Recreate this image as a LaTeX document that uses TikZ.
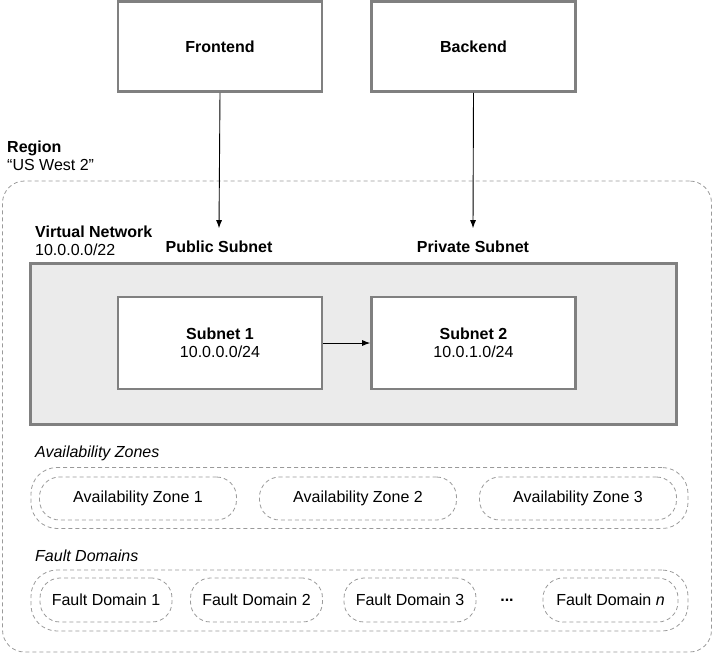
\documentclass[tikz,border=0pt]{standalone}
\usepackage{fontspec}
\setmainfont{Liberation Sans}
\usetikzlibrary{arrows.meta,positioning}
\definecolor{edgeGray}{HTML}{808080}
\definecolor{dashGray}{HTML}{9A9A9A}
\definecolor{vnetFill}{HTML}{EBEBEB}
\newcommand{\diagfont}{\fontsize{16}{18}\selectfont}

\begin{document}
\begin{tikzpicture}[x=1pt,y=-1pt,
  every node/.style={font=\diagfont},
  svc/.style={draw=edgeGray,line width=2.6pt,fill=white,
    minimum width=204pt,minimum height=90pt,align=center},
  vnetbox/.style={draw=edgeGray,line width=2.6pt,fill=vnetFill,
    minimum width=646pt,minimum height=161pt},
  zone/.style={draw=dashGray,line width=0.8pt,dash pattern=on 4pt off 3pt},
  group/.style={zone,rounded corners=26pt,minimum width=657pt,minimum height=61pt},
  azbox/.style={zone,rounded corners=20pt,minimum width=197pt,minimum height=43pt},
  fdbox/.style={zone,rounded corners=20pt,minimum width=132pt,minimum height=44pt},
  lbl/.style={anchor=base west,inner sep=0pt,align=left},
  arr/.style={-{Latex[length=8pt,width=6pt]},line width=0.9pt,draw=black}]
  \useasboundingbox (0,0) rectangle (713,654);
  % services above the region
  \node[svc] (frontend) at (220,46.5) {\textbf{Frontend}};
  \node[svc] (backend) at (473.5,46.5) {\textbf{Backend}};
  % region
  \node[zone,rounded corners=22pt,minimum width=709pt,minimum height=471pt]
    (region) at (357,416.5) {};
  \node[lbl] (regionlbl) at (7,170) {\textbf{Region}\\“US West 2”};
  % virtual network
  \node[lbl] (vnetlbl) at (35,255) {\textbf{Virtual Network}\\10.0.0.0/22};
  \node[anchor=base,inner sep=0pt] (pubsub) at (219,252) {\textbf{Public Subnet}};
  \node[anchor=base,inner sep=0pt] (privsub) at (473,252) {\textbf{Private Subnet}};
  \node[vnetbox] (vnet) at (353.5,344) {};
  \node[svc,minimum height=92pt] (subnet1) at (220,343)
    {\textbf{Subnet 1}\\10.0.0.0/24};
  \node[svc,minimum height=92pt] (subnet2) at (473.5,343)
    {\textbf{Subnet 2}\\10.0.1.0/24};
  % availability zones
  \node[lbl] (azlbl) at (35,457) {\textit{Availability Zones}};
  \node[group] (azgroup) at (359.5,498) {};
  \node[azbox] (az1) at (138,498.5) {Availability Zone 1};
  \node[azbox] (az2) at (358,498.5) {Availability Zone 2};
  \node[azbox] (az3) at (578,498.5) {Availability Zone 3};
  % fault domains
  \node[lbl] (fdlbl) at (35,561) {\textit{Fault Domains}};
  \node[group] (fdgroup) at (359.5,600.5) {};
  \node[fdbox] (fd1) at (106,600) {Fault Domain 1};
  \node[fdbox] (fd2) at (256.5,600) {Fault Domain 2};
  \node[fdbox] (fd3) at (410,600) {Fault Domain 3};
  \node (fddots) at (507,600) {\textbf{...}};
  \node[fdbox,minimum width=135pt] (fdn) at (610.5,600) {Fault Domain \textit{n}};
  % connectors
  \draw[arr] (frontend.south) -- ([yshift=12pt]pubsub.north);
  \draw[arr] (backend.south) -- ([yshift=12pt]privsub.north);
  \draw[arr] (subnet1.east) -- (subnet2.west);
\end{tikzpicture}
\end{document}
